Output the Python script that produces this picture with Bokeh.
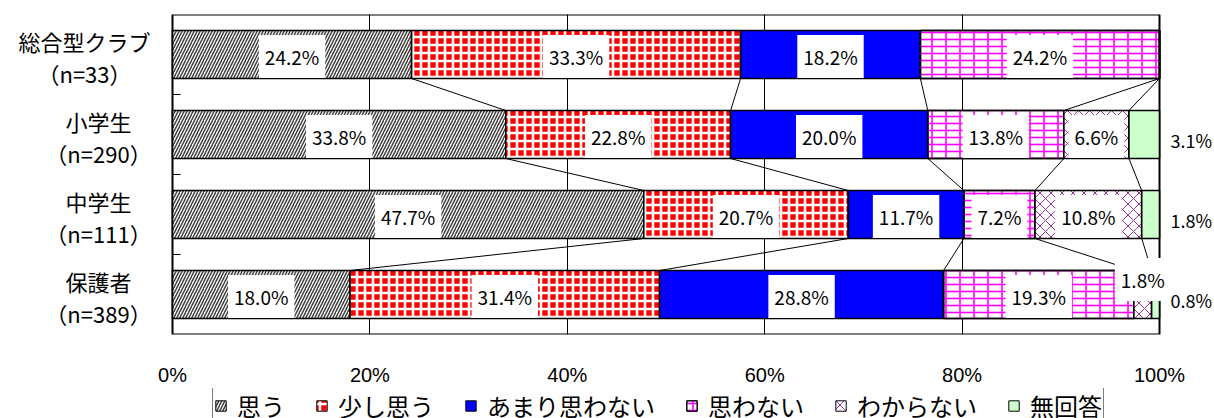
from bokeh.plotting import figure
from bokeh.layouts import column
from bokeh.models import (Range1d, ColumnDataSource, Legend, LegendItem,
                          FixedTicker, PrintfTickFormatter)
from bokeh.core.properties import value
from bokeh.embed import file_html
from bokeh.resources import INLINE

# ---------------- data ----------------
categories = ["総合型クラブ", "小学生", "中学生", "保護者"]
sample_sizes = ["（n=33）", "（n=290）", "（n=111）", "（n=389）"]
series_names = ["思う", "少し思う", "あまり思わない", "思わない", "わからない", "無回答"]
omou = [24.2, 33.8, 47.7, 18.0]
sukoshi_omou = [33.3, 22.8, 20.7, 31.4]
amari_omowanai = [18.2, 20.0, 11.7, 28.8]
omowanai = [24.2, 13.8, 7.2, 19.3]
wakaranai = [0.0, 6.6, 10.8, 1.8]
mukaitou = [0.0, 3.1, 1.8, 0.8]
x_ticks = [0, 20, 40, 60, 80, 100]

series_values = [omou, sukoshi_omou, amari_omowanai, omowanai, wakaranai, mukaitou]

JP = "Noto Sans CJK JP"
NUM = "Liberation Sans"
BAR_H = 0.6
W = 1214
MAIN_H, LEG_H = 388, 30
PLOT_L, PLOT_R = 172, 1159          # pixel extent of the 0..100 % area
n = len(categories)
ypos = [n - i - 0.5 for i in range(n)]
totals = [sum(s[i] for s in series_values) for i in range(n)]
norm = [[s[i] * 100.0 / totals[i] for i in range(n)] for s in series_values]
lefts, rights = [], []
acc = [0.0] * n
for s in norm:
    lefts.append(acc[:])
    acc = [acc[i] + s[i] for i in range(n)]
    rights.append(acc[:])

# ---------------- fill styles (each series: one or more stacked layers) ----------------
layers = [
    [dict(fill_color="white", hatch_pattern="/", hatch_color="#404040", hatch_scale=6, hatch_weight=1.5)],
    [dict(fill_color="#FF0000", hatch_pattern="+", hatch_color="white", hatch_scale=8, hatch_weight=2.6)],
    [dict(fill_color="#0000FF")],
    [dict(fill_color="white", hatch_pattern="-", hatch_color="#FF00FF", hatch_scale=7, hatch_weight=1.6),
     dict(fill_alpha=0, hatch_pattern="|", hatch_color="#FF00FF", hatch_scale=14, hatch_weight=1.6)],
    [dict(fill_color="white", hatch_pattern="x", hatch_color="#993399", hatch_scale=11, hatch_weight=1)],
    [dict(fill_color="#CCFFCC")],
]

# x range extended so that the side texts lie inside the frame
ppu = (PLOT_R - PLOT_L) / 100.0
x_lo = -PLOT_L / ppu
x_hi = 100 + (W - PLOT_R) / ppu

p = figure(width=W, height=MAIN_H, x_range=Range1d(x_lo, x_hi), y_range=Range1d(0, n),
           output_backend="svg", toolbar_location=None, y_axis_location=None,
           min_border_left=0, min_border_right=0, min_border_top=14, min_border_bottom=54)
p.background_fill_color = "white"
p.border_fill_color = "white"
p.outline_line_color = None

# grid
p.xgrid.ticker = FixedTicker(ticks=x_ticks[1:-1])
p.xgrid.grid_line_color = "black"
p.xgrid.grid_line_width = 1
p.ygrid.grid_line_color = None

# x axis
p.xaxis.ticker = FixedTicker(ticks=x_ticks)
p.xaxis.formatter = PrintfTickFormatter(format="%d%%")
p.xaxis.axis_line_color = None
p.xaxis.major_tick_line_color = None
p.xaxis.minor_tick_line_color = None
p.xaxis.major_label_standoff = 23
p.xaxis.major_label_text_font = NUM
p.xaxis.major_label_text_font_size = "20px"
p.xaxis.major_label_text_color = "black"

# plot-area border and inner ticks at category boundaries
p.quad(left=[0], right=[100], bottom=[0], top=[n], fill_color=None, line_color="black", line_width=2)
p.ray(x=[0] * (n - 1), y=list(range(1, n)), length=8, length_units="screen", angle=0,
      line_color="black", line_width=1)

# series lines
sx0, sy0, sx1, sy1 = [], [], [], []
for k in range(n - 1):
    for j in range(len(series_values) - 1):
        sx0.append(rights[j][k]); sy0.append(ypos[k] - BAR_H / 2)
        sx1.append(rights[j][k + 1]); sy1.append(ypos[k + 1] + BAR_H / 2)
p.segment(x0=sx0, y0=sy0, x1=sx1, y1=sy1, line_color="black", line_width=1)

# bars
for j, name in enumerate(series_names):
    src = ColumnDataSource(dict(y=ypos, left=lefts[j], right=rights[j]))
    for lay in layers[j]:
        p.hbar(y="y", left="left", right="right", height=BAR_H, source=src,
               line_color="black", line_width=1.6, **lay)

# value labels
in_x, in_y, in_t, in_off = [], [], [], []
out_x, out_y, out_t = [], [], []
last = len(series_names) - 1
for j in range(len(series_names)):
    for i in range(n):
        v = series_values[j][i]
        if v <= 0:
            continue
        txt = f"{v:.1f}%"
        if j == last:
            out_x.append(100); out_y.append(ypos[i]); out_t.append(txt)
        else:
            in_x.append((lefts[j][i] + rights[j][i]) / 2); in_y.append(ypos[i]); in_t.append(txt)
            in_off.append(-15 if v < 2 else 2)

p.text(x="x", y="y", text="text", y_offset="off",
       source=ColumnDataSource(dict(x=in_x, y=in_y, text=in_t, off=in_off)),
       text_font=value(JP), text_font_size="19px", text_color="black",
       text_align="center", text_baseline="middle",
       background_fill_color="white", padding=(6, 8))

p.text(x="x", y="y", text="text", x_offset=11, y_offset=5,
       source=ColumnDataSource(dict(x=out_x, y=out_y, text=out_t)),
       text_font=value(JP), text_font_size="18px", text_color="black",
       text_align="left", text_baseline="middle")

# category labels (two lines, centred on each other, block ending left of the plot)
def est_width(s):
    return sum(22 if ord(c) > 0x2000 else 12 for c in s)

cat_off = [-(22 + max(est_width(a), est_width(b)) / 2) for a, b in zip(categories, sample_sizes)]
cat_src = ColumnDataSource(dict(x=[0] * n, y=ypos, l1=categories, l2=sample_sizes, xo=cat_off))
p.text(x="x", y="y", text="l1", source=cat_src, x_offset="xo", y_offset=-14,
       text_font=value(JP), text_font_size="22px", text_color="black",
       text_align="center", text_baseline="middle")
p.text(x="x", y="y", text="l2", source=cat_src, x_offset="xo", y_offset=18,
       text_font=value(JP), text_font_size="22px", text_color="black",
       text_align="center", text_baseline="middle")

# ---------------- legend strip (cut at the page bottom like the original) ----------------
q = figure(width=W, height=LEG_H, x_range=Range1d(0, 1), y_range=Range1d(0, 1),
           output_backend="svg", toolbar_location=None,
           x_axis_location=None, y_axis_location=None,
           min_border_left=0, min_border_right=0, min_border_top=0, min_border_bottom=0)
q.outline_line_color = None
q.grid.visible = False
items = []
for j, nm in enumerate(series_names):
    # swatch renderers kept outside the visible range; only used by the legend
    rs = [q.hbar(y=[-5], left=[0], right=[1], height=BAR_H, line_color="black", line_width=1, **lay)
          for lay in layers[j]]
    items.append(LegendItem(label=nm, renderers=rs))
legend = Legend(items=items, orientation="horizontal", location=(212, -7),
                label_text_font=JP, label_text_font_size="24px", label_text_color="black",
                glyph_width=13, glyph_height=13, label_standoff=10, spacing=30,
                padding=1, margin=0, border_line_color="black", border_line_width=1,
                background_fill_color="white", background_fill_alpha=1)
q.add_layout(legend, "center")

layout = column(p, q, spacing=0)
open("out.html", "w").write(file_html(layout, INLINE))
